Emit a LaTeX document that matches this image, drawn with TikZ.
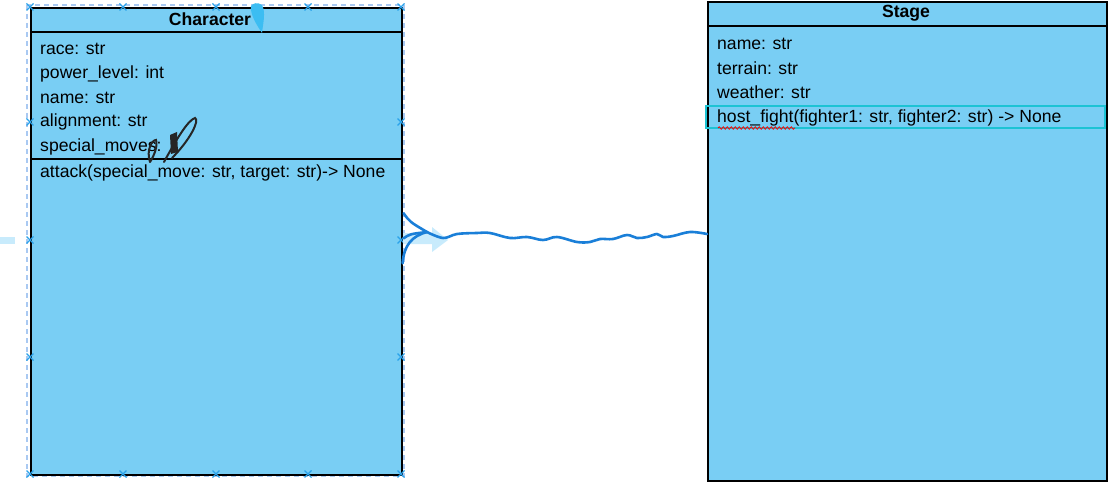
\documentclass[tikz,border=0pt]{standalone}
\usepackage{fontspec}
\setmainfont{Liberation Sans}
\usepackage{tikz}
\usetikzlibrary{decorations.pathmorphing}

\definecolor{classfill}{HTML}{79CEF4}
\definecolor{penblue}{HTML}{1A7FD8}
\definecolor{selblue}{HTML}{A9C9F2}
\definecolor{handleblue}{HTML}{2AA2EA}
\definecolor{ghostblue}{HTML}{C8EBFC}
\definecolor{hilite}{HTML}{1CC3D4}
\definecolor{blobblue}{HTML}{3CBDF2}

\begin{document}
\begin{tikzpicture}[x=1pt,y=1pt,yscale=-1,xscale=1,
    classbox/.style={draw=black,line width=1.6pt,fill=classfill,inner sep=0pt,anchor=north west},
    member/.style={anchor=west,inner sep=0pt,font=\fontsize{17.6}{20}\selectfont},
    classtitle/.style={inner sep=0pt,font=\fontsize{17.6}{20}\selectfont\bfseries},
    pen/.style={penblue,line width=2.6pt,line cap=round,line join=round}]
    \useasboundingbox (0,0) rectangle (1120,484);

    %Shape: Rectangle [id:character]
    \draw[selblue,line width=1.2pt,dash pattern=on 5pt off 4pt] (27,5) rectangle (404,476);
    \node[classbox,minimum width=371pt,minimum height=467pt] (character) at (30,7) {};
    \draw[line width=1.6pt] (30,32) -- (401,32);
    \draw[line width=1.6pt] (30,159) -- (401,159);

    %Shape: Rectangle [id:stage]
    \fill[gray!70] (709,3) rectangle (1108,482);
    \node[classbox,minimum width=399pt,minimum height=479pt] (stage) at (707,1) {};
    \draw[line width=1.6pt] (707,26) -- (1106,26);
    \draw[hilite,line width=2.4pt] (706,106) rectangle (1105,128);

    % Text Node
    \node[classtitle] (chartitle) at (210,19) {Character};
    \node[member] (race) at (40,49) {race: str};
    \node[member] (power) at (40,74) {power\_level: int};
    \node[member] (cname) at (40,98) {name: str};
    \node[member] (align) at (40,122) {alignment: str};
    \node[member] (moves) at (40,147) {special\_moves: };
    \node[member] (attack) at (40,173) {attack(special\_move: str, target: str)-> None};

    % Text Node
    \node[classtitle] (stagetitle) at (906,13) {Stage};
    \node[member] (sname) at (717,44) {name: str};
    \node[member] (terrain) at (717,68) {terrain: str};
    \node[member] (weather) at (717,92) {weather: str};
    \node[member] (host) at (717,118) {host\_fight(fighter1: str, fighter2: str) -> None};
    \draw[red,line width=0.8pt,decorate,decoration={snake,amplitude=1.2pt,segment length=4pt}] (718,128) -- (795,128);

    % selection handles
    \foreach \hx in {30,123,216,308,401} {
        \draw[handleblue,line width=1.3pt] (\hx-3.5,3.5) -- (\hx+3.5,10.5) (\hx-3.5,10.5) -- (\hx+3.5,3.5);
        \draw[handleblue,line width=1.3pt] (\hx-3.5,470.5) -- (\hx+3.5,477.5) (\hx-3.5,477.5) -- (\hx+3.5,470.5);
    }
    \foreach \hy in {122,240,357} {
        \draw[handleblue,line width=1.3pt] (26.5,\hy-3.5) -- (33.5,\hy+3.5) (26.5,\hy+3.5) -- (33.5,\hy-3.5);
        \draw[handleblue,line width=1.3pt] (397.5,\hy-3.5) -- (404.5,\hy+3.5) (397.5,\hy+3.5) -- (404.5,\hy-3.5);
    }

    % ghost arrow
    \fill[ghostblue] (0,237) rectangle (15,244);
    \fill[ghostblue] (403,233) -- (432,233) -- (432,227) -- (448,240) -- (432,252) -- (432,244) -- (403,244) -- cycle;

    % hand drawn connector
    \coordinate (fork) at (427,232);
    \draw[pen] (character.east) ++(1,-28) .. controls (410,222) .. (fork);
    \draw[pen] (character.east) ++(1,-3) .. controls (410,234) .. (fork);
    \draw[pen] (character.east) ++(0,22) .. controls (404,245) and (412,236) .. (fork);
    \draw[pen] plot[smooth,tension=0.6] coordinates {(fork) (443,238) (457,234) (477,233) (490,233)
        (510,238) (527,237) (543,240) (557,237) (577,242) (590,242) (600,239) (613,239) (627,235)
        (637,238) (647,237) (657,234) (663,237) (673,236) (690,232) (stage.west |- 0,234)};

    % scribbles
    \fill[blobblue] (251,6) .. controls (250,14) and (256,24) .. (262,33)
        .. controls (263,24) and (266,12) .. (262,5) .. controls (258,2) and (253,3) .. cycle;
    \draw[black!85,line width=2pt,line cap=round] (164,162) .. controls (176,140) and (188,120) .. (195,118)
        .. controls (200,120) and (190,140) .. (172,158);
    \fill[black!85] (170,135) -- (177,132) -- (178,152) -- (171,154) -- cycle;
    \draw[black!85,line width=2pt,line cap=round] (150,162) .. controls (146,150) and (152,140) .. (156,140)
        .. controls (158,146) and (154,156) .. (150,162);
\end{tikzpicture}
\end{document}
